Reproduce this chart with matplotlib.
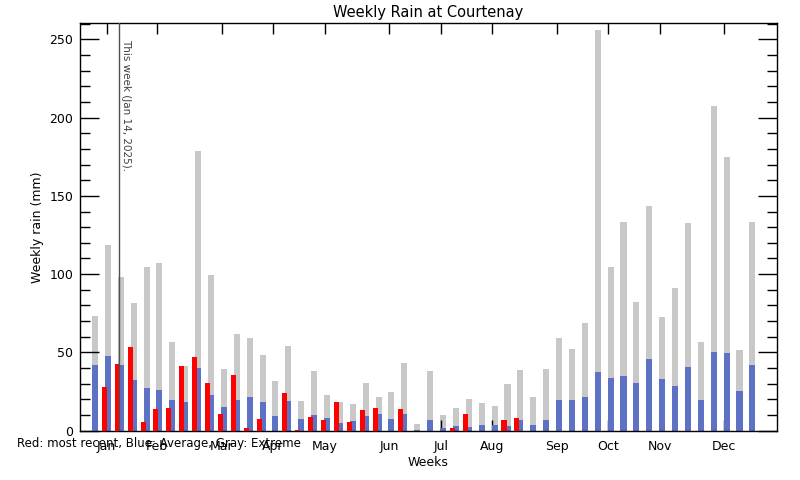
import matplotlib
matplotlib.use("Agg")
import matplotlib.pyplot as plt
from matplotlib.ticker import MultipleLocator
import numpy as np

weeks = list(range(1, 53))
extreme = [73.5, 118.6, 98.2, 81.6, 104.6, 107.2, 56.7, 41.4, 178.6, 99.4,
           39.4, 61.8, 59.2, 48.4, 31.8, 54.1, 18.9, 38.1, 22.8, 18.3,
           17.1, 30.5, 21.5, 24.7, 43.2, 4.3, 38.1, 10.0, 14.5, 20.2,
           17.7, 15.8, 29.9, 38.8, 21.5, 39.4, 59.2, 52.2, 68.8, 256.0,
           104.6, 133.3, 82.2, 143.5, 72.6, 91.1, 132.7, 56.7, 207.4, 174.8,
           51.5, 133.3]
average = [42.0, 47.7, 42.0, 32.4, 27.3, 26.0, 19.6, 18.3, 40.1, 22.8,
           15.2, 19.6, 21.5, 18.3, 9.4, 18.9, 7.5, 10.0, 8.1, 4.9,
           6.2, 9.4, 10.7, 7.5, 10.7, 0.6, 7.0, 1.7, 3.0, 2.4,
           3.6, 3.6, 3.0, 7.0, 3.6, 7.0, 19.6, 19.6, 21.5, 37.5,
           33.7, 35.0, 30.5, 45.8, 33.0, 28.6, 40.7, 19.6, 50.3, 49.6,
           25.4, 42.0]
recent = [0, 27.9, 42.6, 53.5, 5.6, 13.9, 14.5, 41.4, 47.2, 30.4,
          10.7, 35.5, 1.7, 7.5, 0, 24.1, 0.5, 8.8, 7.0, 18.3,
          5.6, 13.2, 14.5, 0, 13.8, 0, 0, 0, 1.7, 10.7,
          0, 0, 7.0, 8.1, 0, 0, 0, 0, 0, 0,
          0, 0, 0, 0, 0, 0, 0, 0, 0, 0,
          0, 0]
month_labels = ["Jan", "Feb", "Mar", "Apr", "May", "Jun",
                "Jul", "Aug", "Sep", "Oct", "Nov", "Dec"]
month_pos = [1.91, 5.81, 10.85, 14.81, 18.84, 23.81,
             27.84, 31.80, 36.84, 40.80, 44.84, 49.80]
this_week_pos = 2.885
this_week_text = "This week (Jan 14, 2025)."

fig = plt.figure(figsize=(8, 4.8), dpi=100)
ax = fig.add_axes([0.1, 1 - 430.7 / 480, 0.87125, (430.7 - 23) / 480])

x = np.array(weeks, dtype=float)
ax.bar(x, extreme, width=0.47, color="#c8c8c8", linewidth=0, zorder=1)
ax.bar(x, average, width=0.47, color="#5e72c5", linewidth=0, zorder=2)
ax.bar(x - 0.27, recent, width=0.39, color="#ff0000", linewidth=0, zorder=3)

ax.axvline(this_week_pos, color="#505050", linewidth=1, zorder=4)
ax.text(this_week_pos + 0.1, 250.5, this_week_text, rotation=270,
        ha="left", va="top", fontsize=7.5, color="#404040")

ax.set_xlim(-0.164, 53.91)
ax.set_ylim(0, 260.4)

ax.set_xticks(month_pos)
ax.set_xticklabels(month_labels, fontsize=9)
ax.yaxis.set_major_locator(MultipleLocator(50))
ax.yaxis.set_minor_locator(MultipleLocator(10))
ax.tick_params(axis="x", direction="in", length=8, width=1, top=True,
               bottom=True, pad=7)
ax.tick_params(axis="y", which="major", direction="in", length=14, width=1,
               left=True, right=True, labelsize=9, pad=5)
ax.tick_params(axis="y", which="minor", direction="in", length=7, width=1,
               left=True, right=True)
for s in ax.spines.values():
    s.set_linewidth(1)

ax.set_title("Weekly Rain at Courtenay", fontsize=10.5, pad=4)
ax.set_ylabel("Weekly rain (mm)", fontsize=9, labelpad=4)
ax.set_xlabel("Weeks", fontsize=9, labelpad=2)

fig.text(17 / 800, 1 - 443 / 480, "Red: most recent, Blue: Average, Gray: Extreme",
         fontsize=8.5, ha="left", va="center")

fig.savefig("out.png", dpi=100)
